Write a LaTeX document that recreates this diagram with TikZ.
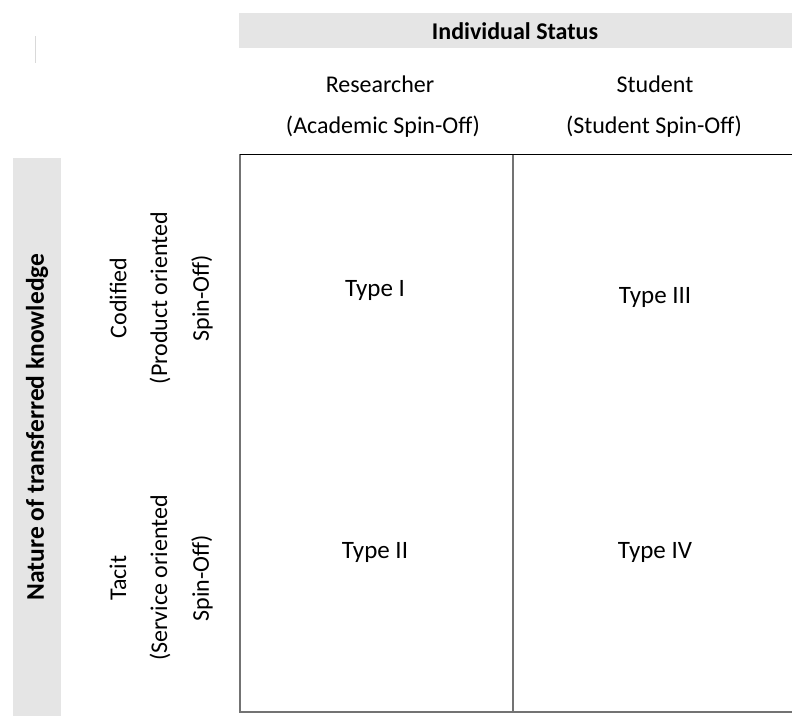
\documentclass[tikz,border=0pt]{standalone}
\usepackage{fontspec}
\setmainfont{Carlito}
\begin{document}
\begin{tikzpicture}[x=1pt,y=-1pt,
  lbl/.style={inner sep=0pt, font=\fontsize{24}{28}\selectfont},
  hdr/.style={lbl, font=\fontsize{24}{28}\selectfont\bfseries},
  vlbl/.style={lbl, rotate=90},
  cell/.style={inner sep=0pt, font=\fontsize{25}{30}\selectfont},
  band/.style={fill=black!10, draw=none},
  gridline/.style={draw=black!55, line width=1.5pt},
  topline/.style={draw=black, line width=1pt}]
\useasboundingbox (0,0) rectangle (792,716);
\fill[white] (0,0) rectangle (792,716);

% header bands
\path[band] (239,13) rectangle (792,48);
\path[band] (13,158) rectangle (61,716);
\draw[black!15, line width=0.8pt] (35,36) -- (35,63);

% matrix frame
\draw[gridline] (240,154) -- (240,712) -- (792,712);
\draw[gridline] (513,154) -- (513,712);
\draw[topline] (240,154) -- (792,154);

% column headings
\node[hdr] (status) at (515,31) {Individual Status};
\node[lbl] (res) at (380,84) {Researcher};
\node[lbl] (aso) at (383,127) {(Academic Spin-Off)};
\node[lbl] (stu) at (655,84) {Student};
\node[lbl] (sso) at (654,127) {(Student Spin-Off)};

% row headings
\node[hdr, rotate=90, font=\fontsize{25.5}{30}\selectfont\bfseries] (nature) at (37,427) {Nature of transferred knowledge};
\node[vlbl] (cod) at (118,298) {Codified};
\node[vlbl] (pso) at (160,298) {(Product oriented};
\node[vlbl] (pso2) at (202,298) {Spin-Off)};
\node[vlbl] (tac) at (118,578) {Tacit};
\node[vlbl] (sso2) at (160,578) {(Service oriented};
\node[vlbl] (sso3) at (202,578) {Spin-Off)};

% cells
\node[cell] (t1) at (375,290) {Type I};
\node[cell] (t3) at (655,297) {Type III};
\node[cell] (t2) at (375,552) {Type II};
\node[cell] (t4) at (655,552) {Type IV};
\end{tikzpicture}
\end{document}
